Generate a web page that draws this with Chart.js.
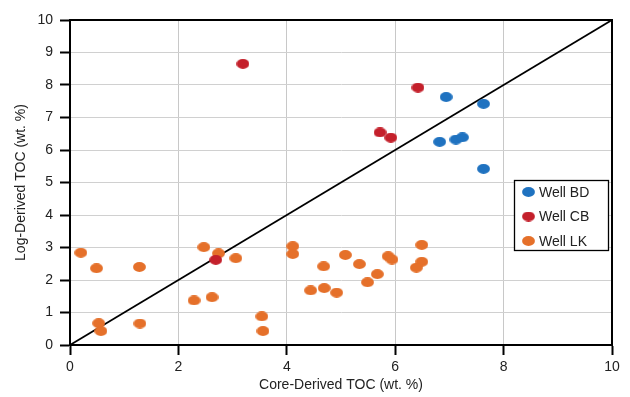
<!DOCTYPE html>
<html>
<head>
<meta charset="utf-8">
<script src="https://cdn.jsdelivr.net/npm/chart.js@4"></script>
<style>
  body { margin: 0; background: #fff; }
  #wrap { width: 630px; height: 397px; }
</style>
</head>
<body>
<div id="wrap"><canvas id="myChart" width="630" height="397"></canvas></div>
<script>
// datos (Core TOC vs Log TOC)
const wellBDx = [6.94, 7.63, 6.82, 7.12, 7.24, 7.63];
const wellBDy = [7.63, 7.42, 6.25, 6.32, 6.39, 5.42];

const wellCBx = [3.19, 6.42, 5.72, 5.92, 2.69];
const wellCBy = [8.65, 7.92, 6.54, 6.38, 2.62];

const wellLKx = [0.20, 0.49, 1.28, 2.47, 2.74, 3.06, 2.29, 2.62, 0.53, 0.57, 1.29, 3.54, 3.56, 4.11, 4.11,
                 4.68, 4.44, 4.69, 4.92, 5.08, 5.34, 5.49, 5.67, 5.87, 5.94, 6.49, 6.49, 6.39];
const wellLKy = [2.84, 2.36, 2.40, 3.01, 2.82, 2.67, 1.37, 1.47, 0.67, 0.43, 0.66, 0.88, 0.43, 3.04, 2.80,
                 2.42, 1.68, 1.75, 1.61, 2.77, 2.49, 1.93, 2.18, 2.73, 2.63, 3.08, 2.56, 2.38];

const lineaX = [0, 10];
const lineaY = [0, 10];

const colorBD = "#1f72c0";
const colorCB = "#c4202b";
const colorLK = "#e5702a";

function puntos(xs, ys) {
  return xs.map((x, i) => ({ x: x, y: ys[i] }));
}

// los puntos son elipses, no circulos
function elipse(color) {
  const c = document.createElement("canvas");
  c.width = 13;
  c.height = 10;
  const ctx = c.getContext("2d");
  ctx.fillStyle = color;
  ctx.beginPath();
  ctx.ellipse(6.5, 5, 6.4, 4.9, 0, 0, Math.PI * 2);
  ctx.fill();
  return c;
}

const fuente = "'Liberation Sans', Arial, Helvetica, sans-serif";

// marco negro arriba y a la derecha + leyenda dentro del area
const marcoYLeyenda = {
  id: "marcoYLeyenda",
  afterDatasetsDraw(chart) {
    const ctx = chart.ctx;
    const a = chart.chartArea;
    ctx.save();
    ctx.strokeStyle = "#000";
    ctx.lineWidth = 2;
    ctx.beginPath();
    ctx.moveTo(a.left, a.top);
    ctx.lineTo(a.right, a.top);
    ctx.lineTo(a.right, a.bottom);
    ctx.stroke();

    // leyenda
    const lx = 514.5, ly = 180.5, lw = 94, lh = 70;
    ctx.fillStyle = "#fff";
    ctx.fillRect(lx, ly, lw, lh);
    ctx.lineWidth = 1.3;
    ctx.strokeRect(lx, ly, lw, lh);
    const items = chart.data.datasets.filter(d => d.label);
    items.forEach((d, i) => {
      const cy = 192 + i * 24.5;
      ctx.drawImage(d.pointStyle, 522, cy - 5);
      ctx.fillStyle = "#222";
      ctx.font = "14px " + fuente;
      ctx.textBaseline = "middle";
      ctx.fillText(d.label, 539, cy + 1);
    });
    ctx.restore();
  }
};

const config = {
  type: "scatter",
  data: {
    datasets: [
      { label: "Well BD", data: puntos(wellBDx, wellBDy), pointStyle: elipse(colorBD), backgroundColor: colorBD, borderWidth: 0, order: 1 },
      { label: "Well CB", data: puntos(wellCBx, wellCBy), pointStyle: elipse(colorCB), backgroundColor: colorCB, borderWidth: 0, order: 2 },
      { label: "Well LK", data: puntos(wellLKx, wellLKy), pointStyle: elipse(colorLK), backgroundColor: colorLK, borderWidth: 0, order: 3 },
      {
        type: "line",
        data: puntos(lineaX, lineaY),
        borderColor: "#000",
        borderWidth: 1.8,
        pointRadius: 0,
        fill: false,
        order: 10
      }
    ]
  },
  options: {
    responsive: false,
    animation: false,
    layout: { padding: { left: 0, right: 18, top: 20, bottom: 0 } },
    plugins: {
      legend: { display: false },
      tooltip: { enabled: false }
    },
    scales: {
      x: {
        type: "linear",
        min: 0,
        max: 10,
        ticks: { stepSize: 2, color: "#222", font: { family: fuente, size: 14 }, padding: 4 },
        grid: { color: "#c8c8c8", tickColor: "#000", tickLength: 10, tickWidth: 2, lineWidth: 1 },
        border: { color: "#000", width: 2 },
        title: { display: true, text: "Core-Derived TOC (wt. %)", color: "#222", font: { family: fuente, size: 14 }, padding: { top: 0, bottom: 3 } },
        afterFit(scale) { scale.height = 52; }
      },
      y: {
        type: "linear",
        min: 0,
        max: 10,
        ticks: { stepSize: 1, color: "#222", font: { family: fuente, size: 14 }, padding: 7 },
        grid: { color: "#d0d0d0", tickColor: "#000", tickLength: 10, tickWidth: 2, lineWidth: 1 },
        border: { color: "#000", width: 2 },
        title: { display: true, text: "Log-Derived TOC (wt. %)", color: "#222", font: { family: fuente, size: 14 }, padding: { top: 13, bottom: 0 } },
        afterFit(scale) { scale.width = 70; }
      }
    }
  },
  plugins: [marcoYLeyenda]
};

const chartDOM = document.getElementById("myChart");
const myChart = new Chart(chartDOM, config);
</script>
</body>
</html>
